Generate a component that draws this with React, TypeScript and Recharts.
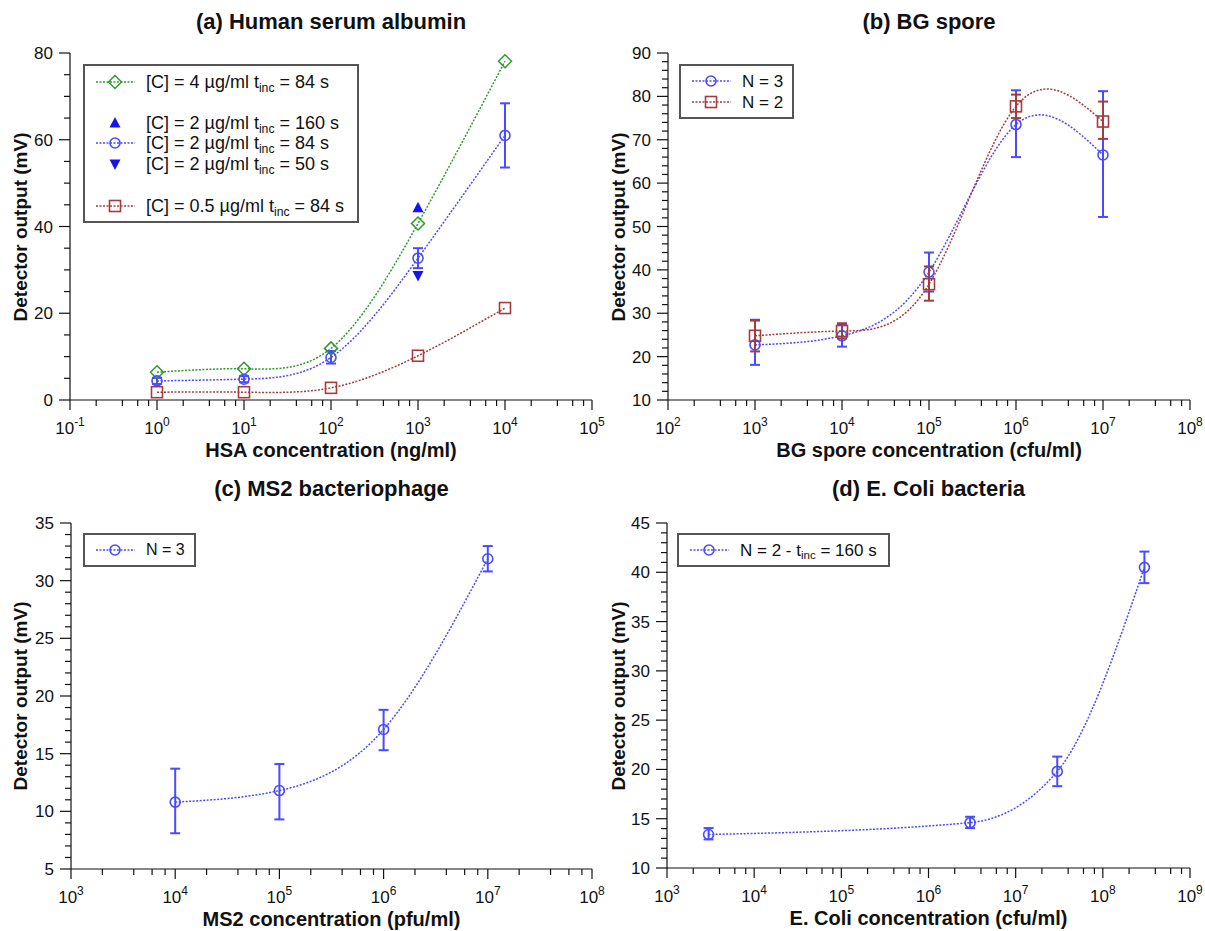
import React from 'react';
import { ComposedChart, Line, XAxis, YAxis, ErrorBar } from 'recharts';

const FONT = '"Liberation Sans", Arial, Helvetica, sans-serif';
const INK = '#111';
const BLUE = '#4a4aff';
const GREEN = '#2f9a2f';
const RED = '#a53c3c';
const TRI = '#1414f0';

// (a) Human serum albumin
const hsaConc = [1, 10, 100, 1000, 10000];
const hsa4ug = [6.4, 7.2, 11.9, 40.7, 78.1];
const hsa2ug = [4.4, 4.8, 9.8, 32.7, 61.0];
const hsa2ugLow = [3.7, 4.1, 8.4, 30.4, 53.6];
const hsa2ugHigh = [5.1, 5.5, 11.3, 35.0, 68.4];
const hsa05ug = [1.8, 1.8, 2.8, 10.2, 21.2];
const hsaTriConc = [1000];
const hsa2ug160s = [44.3];
const hsa2ug50s = [28.7];
const hsaXMajor = [0.1, 1, 10, 100, 1000, 10000, 100000];
const hsaYMajor = [0, 20, 40, 60, 80];

// (b) BG spore
const bgConc = [1e3, 1e4, 1e5, 1e6, 1e7];
const bgN3 = [22.7, 24.8, 39.5, 73.5, 66.5];
const bgN3Low = [18.1, 22.3, 35.0, 66.0, 52.2];
const bgN3High = [28.5, 27.3, 44.0, 81.4, 81.2];
const bgN2 = [24.8, 25.9, 36.7, 77.7, 74.2];
const bgN2Low = [21.2, 24.2, 32.9, 75.0, 70.2];
const bgN2High = [28.3, 27.7, 40.8, 80.4, 78.8];
const bgXMajor = [1e2, 1e3, 1e4, 1e5, 1e6, 1e7, 1e8];
const bgYMajor = [10, 20, 30, 40, 50, 60, 70, 80, 90];

// (c) MS2 bacteriophage
const ms2Conc = [1e4, 1e5, 1e6, 1e7];
const ms2N3 = [10.8, 11.8, 17.1, 31.9];
const ms2N3Low = [8.1, 9.3, 15.3, 30.8];
const ms2N3High = [13.7, 14.1, 18.8, 33.0];
const ms2XMajor = [1e3, 1e4, 1e5, 1e6, 1e7, 1e8];
const ms2YMajor = [5, 10, 15, 20, 25, 30, 35];

// (d) E. Coli bacteria
const ecConc = [3e3, 3e6, 3e7, 3e8];
const ecN2 = [13.4, 14.6, 19.8, 40.5];
const ecN2Low = [12.9, 14.05, 18.3, 38.9];
const ecN2High = [14.05, 15.2, 21.3, 42.1];
const ecXMajor = [1e3, 1e4, 1e5, 1e6, 1e7, 1e8, 1e9];
const ecYMajor = [10, 15, 20, 25, 30, 35, 40, 45];

const minorMultipliers = [2, 4, 6, 8];

type Shape = 'circle' | 'square' | 'diamond' | 'up' | 'down';
type Row = { x: number; y: number; err?: [number, number] };

function toRows(xs: number[], ys: number[], lo?: number[], hi?: number[]): Row[] {
  return xs.map((x, i) => ({
    x,
    y: ys[i],
    err: lo && hi ? [ys[i] - lo[i], hi[i] - ys[i]] : undefined
  }));
}

function logTicks(majors: number[]) {
  const out: number[] = [];
  majors.forEach((m, i) => {
    out.push(m);
    if (i < majors.length - 1) minorMultipliers.forEach((k) => out.push(m * k));
  });
  return out;
}

function linTicks(majors: number[], step: number) {
  const out: number[] = [];
  const lo = majors[0];
  const hi = majors[majors.length - 1];
  for (let v = lo; v <= hi + 1e-9; v += step) out.push(Math.round(v * 1000) / 1000);
  return out;
}

function Marker({ cx, cy, shape, color }: { cx: number; cy: number; shape: Shape; color: string }) {
  if (shape === 'circle') return <circle cx={cx} cy={cy} r={5} fill="none" stroke={color} strokeWidth={1.6} />;
  if (shape === 'square')
    return <rect x={cx - 5.5} y={cy - 5.5} width={11} height={11} fill="none" stroke={color} strokeWidth={1.6} />;
  if (shape === 'diamond')
    return (
      <polygon
        points={`${cx},${cy - 6.5} ${cx + 6.5},${cy} ${cx},${cy + 6.5} ${cx - 6.5},${cy}`}
        fill="none"
        stroke={color}
        strokeWidth={1.5}
      />
    );
  if (shape === 'up')
    return <polygon points={`${cx},${cy - 6} ${cx + 5.5},${cy + 4.5} ${cx - 5.5},${cy + 4.5}`} fill={color} />;
  return <polygon points={`${cx},${cy + 6} ${cx + 5.5},${cy - 4.5} ${cx - 5.5},${cy - 4.5}`} fill={color} />;
}

function XTick(props: any) {
  const { x, y, payload } = props;
  const lg = Math.log10(payload.value);
  const exp = Math.round(lg);
  const major = Math.abs(lg - exp) < 1e-6;
  return (
    <g>
      <line x1={x} x2={x} y1={y} y2={y + (major ? 10 : 6)} stroke={INK} strokeWidth={1.2} />
      {major && (
        <text x={x} y={y + 34} textAnchor="middle" fontSize={17} fill={INK} fontFamily={FONT}>
          10
          <tspan dy={-8} fontSize={12}>
            {exp}
          </tspan>
        </text>
      )}
    </g>
  );
}

function YTick(props: any) {
  const { x, y, payload, majors } = props;
  const major = majors.includes(payload.value);
  return (
    <g>
      <line x1={x} x2={x - (major ? 11 : 6)} y1={y} y2={y} stroke={INK} strokeWidth={1.2} />
      {major && (
        <text x={x - 17} y={y + 6} textAnchor="end" fontSize={17} fill={INK} fontFamily={FONT}>
          {payload.value}
        </text>
      )}
    </g>
  );
}

type Series = {
  name: string;
  rows: Row[];
  color: string;
  shape: Shape;
  curve?: 'natural' | 'monotone';
  errColor?: string;
};

type LegendEntry = { y: number; color: string; shape: Shape; line: boolean; label: React.ReactNode };

function Inc() {
  return <span style={{ fontSize: '0.68em', position: 'relative', top: '0.3em' }}>inc</span>;
}

function LegendBox({
  left,
  top,
  width,
  height,
  fontSize,
  entries
}: {
  left: number;
  top: number;
  width: number;
  height: number;
  fontSize: number;
  entries: LegendEntry[];
}) {
  return (
    <div
      style={{
        position: 'absolute',
        left,
        top,
        width,
        height,
        boxSizing: 'border-box',
        border: '2px solid #555',
        background: '#fff',
        fontFamily: FONT,
        fontSize,
        color: INK
      }}
    >
      <svg width={width} height={height} style={{ position: 'absolute', left: -2, top: -2 }}>
        {entries.map((e, i) => (
          <g key={i}>
            {e.line && (
              <line x1={13} x2={52} y1={e.y} y2={e.y} stroke={e.color} strokeWidth={1.5} strokeDasharray="2 1.5" />
            )}
            <Marker cx={32} cy={e.y} shape={e.shape} color={e.color} />
          </g>
        ))}
      </svg>
      {entries.map((e, i) => (
        <div
          key={i}
          style={{ position: 'absolute', left: 61, top: e.y - 2, transform: 'translateY(-50%)', whiteSpace: 'nowrap', lineHeight: 1 }}
        >
          {e.label}
        </div>
      ))}
    </div>
  );
}

type PanelProps = {
  left: number;
  top: number;
  width: number;
  height: number;
  plot: { top: number; right: number; bottom: number; left: number };
  title: string;
  xLabel: string;
  xMajors: number[];
  yMajors: number[];
  yStep: number;
  series: Series[];
  legend: React.ReactNode;
  titleY: number;
};

function Panel(p: PanelProps) {
  const plotW = p.width - p.plot.left - p.plot.right;
  const plotH = p.height - p.plot.top - p.plot.bottom;
  const cx = p.plot.left + plotW / 2;
  const axisY = p.plot.top + plotH;
  const xTicks = logTicks(p.xMajors);
  const yTicks = linTicks(p.yMajors, p.yStep);
  const text: React.CSSProperties = { position: 'absolute', fontFamily: FONT, color: INK, whiteSpace: 'nowrap', lineHeight: 1 };
  return (
    <div style={{ position: 'absolute', left: p.left, top: p.top, width: p.width, height: p.height }}>
      <ComposedChart width={p.width} height={p.height} margin={{ top: p.plot.top, right: p.plot.right, bottom: 0, left: 0 }}>
        <XAxis
          type="number"
          dataKey="x"
          scale="log"
          domain={[p.xMajors[0], p.xMajors[p.xMajors.length - 1]]}
          ticks={xTicks}
          interval={0}
          allowDataOverflow
          height={p.plot.bottom}
          tickSize={0}
          tickMargin={0}
          tickLine={false}
          axisLine={{ stroke: INK, strokeWidth: 1.2 }}
          tick={(t: any) => <XTick {...t} />}
        />
        <YAxis
          type="number"
          domain={[p.yMajors[0], p.yMajors[p.yMajors.length - 1]]}
          ticks={yTicks}
          interval={0}
          allowDataOverflow
          width={p.plot.left}
          tickSize={0}
          tickMargin={0}
          tickLine={false}
          axisLine={{ stroke: INK, strokeWidth: 1.2 }}
          tick={(t: any) => <YTick {...t} majors={p.yMajors} />}
        />
        {p.series.map((s) => (
          <Line
            key={s.name}
            name={s.name}
            data={s.rows}
            dataKey="y"
            type={s.curve ?? 'natural'}
            stroke={s.curve ? s.color : 'none'}
            strokeWidth={1.5}
            strokeDasharray="2 1.5"
            isAnimationActive={false}
            dot={(d: any) => <Marker key={`${s.name}-${d.index}`} cx={d.cx} cy={d.cy} shape={s.shape} color={s.color} />}
            activeDot={false}
          >
            {s.errColor && (
              <ErrorBar dataKey="err" direction="y" width={5} stroke={s.errColor} strokeWidth={2} isAnimationActive={false} />
            )}
          </Line>
        ))}
      </ComposedChart>
      <div style={{ ...text, left: cx, top: p.titleY, transform: 'translate(-50%, -50%)', fontSize: 22, fontWeight: 700 }}>
        {p.title}
      </div>
      <div style={{ ...text, left: cx, top: axisY + 50, transform: 'translate(-50%, -50%)', fontSize: 20, fontWeight: 700 }}>
        {p.xLabel}
      </div>
      <div
        style={{
          ...text,
          left: 20,
          top: p.plot.top + plotH / 2,
          transform: 'translate(-50%, -50%) rotate(-90deg)',
          fontSize: 19,
          fontWeight: 700
        }}
      >
        Detector output (mV)
      </div>
      {p.legend}
    </div>
  );
}

export default function App() {
  return (
    <div style={{ position: 'absolute', left: 0, top: 0, width: 1205, height: 931, background: '#fff', overflow: 'hidden' }}>
      <Panel
        left={0}
        top={0}
        width={615}
        height={470}
        plot={{ top: 53, right: 23, bottom: 70, left: 70 }}
        title="(a) Human serum albumin"
        titleY={22}
        xLabel="HSA concentration (ng/ml)"
        xMajors={hsaXMajor}
        yMajors={hsaYMajor}
        yStep={5}
        series={[
          { name: 'c4', rows: toRows(hsaConc, hsa4ug), color: GREEN, shape: 'diamond', curve: 'natural' },
          { name: 'c05', rows: toRows(hsaConc, hsa05ug), color: RED, shape: 'square', curve: 'natural' },
          {
            name: 'c2',
            rows: toRows(hsaConc, hsa2ug, hsa2ugLow, hsa2ugHigh),
            color: BLUE,
            shape: 'circle',
            curve: 'natural',
            errColor: BLUE
          },
          { name: 'c2t160', rows: toRows(hsaTriConc, hsa2ug160s), color: TRI, shape: 'up' },
          { name: 'c2t50', rows: toRows(hsaTriConc, hsa2ug50s), color: TRI, shape: 'down' }
        ]}
        legend={
          <LegendBox
            left={83}
            top={64}
            width={276}
            height={159}
            fontSize={18}
            entries={[
              { y: 18, color: GREEN, shape: 'diamond', line: true, label: <>[C] = 4 µg/ml t<Inc /> = 84 s</> },
              { y: 59, color: TRI, shape: 'up', line: false, label: <>[C] = 2 µg/ml t<Inc /> = 160 s</> },
              { y: 79, color: BLUE, shape: 'circle', line: true, label: <>[C] = 2 µg/ml t<Inc /> = 84 s</> },
              { y: 100, color: TRI, shape: 'down', line: false, label: <>[C] = 2 µg/ml t<Inc /> = 50 s</> },
              { y: 142, color: RED, shape: 'square', line: true, label: <>[C] = 0.5 µg/ml t<Inc /> = 84 s</> }
            ]}
          />
        }
      />
      <Panel
        left={598}
        top={0}
        width={607}
        height={470}
        plot={{ top: 53, right: 15, bottom: 70, left: 70 }}
        title="(b) BG spore"
        titleY={22}
        xLabel="BG spore concentration (cfu/ml)"
        xMajors={bgXMajor}
        yMajors={bgYMajor}
        yStep={2}
        series={[
          { name: 'n3', rows: toRows(bgConc, bgN3, bgN3Low, bgN3High), color: BLUE, shape: 'circle', curve: 'natural', errColor: BLUE },
          { name: 'n2', rows: toRows(bgConc, bgN2, bgN2Low, bgN2High), color: RED, shape: 'square', curve: 'natural', errColor: RED }
        ]}
        legend={
          <LegendBox
            left={81}
            top={64}
            width={115}
            height={55}
            fontSize={17}
            entries={[
              { y: 17, color: BLUE, shape: 'circle', line: true, label: 'N = 3' },
              { y: 38, color: RED, shape: 'square', line: true, label: 'N = 2' }
            ]}
          />
        }
      />
      <Panel
        left={0}
        top={470}
        width={615}
        height={461}
        plot={{ top: 53, right: 23, bottom: 62, left: 71 }}
        title="(c) MS2 bacteriophage"
        titleY={19}
        xLabel="MS2 concentration (pfu/ml)"
        xMajors={ms2XMajor}
        yMajors={ms2YMajor}
        yStep={1}
        series={[
          { name: 'n3', rows: toRows(ms2Conc, ms2N3, ms2N3Low, ms2N3High), color: BLUE, shape: 'circle', curve: 'natural', errColor: BLUE }
        ]}
        legend={
          <LegendBox
            left={83}
            top={63}
            width={113}
            height={34}
            fontSize={16}
            entries={[{ y: 17, color: BLUE, shape: 'circle', line: true, label: 'N = 3' }]}
          />
        }
      />
      <Panel
        left={598}
        top={470}
        width={607}
        height={461}
        plot={{ top: 53, right: 15, bottom: 63, left: 69 }}
        title="(d) E. Coli bacteria"
        titleY={19}
        xLabel="E. Coli concentration (cfu/ml)"
        xMajors={ecXMajor}
        yMajors={ecYMajor}
        yStep={1}
        series={[
          { name: 'n2', rows: toRows(ecConc, ecN2, ecN2Low, ecN2High), color: BLUE, shape: 'circle', curve: 'monotone', errColor: BLUE }
        ]}
        legend={
          <LegendBox
            left={79}
            top={63}
            width={213}
            height={34}
            fontSize={17}
            entries={[{ y: 17, color: BLUE, shape: 'circle', line: true, label: <>N = 2 - t<Inc /> = 160 s</> }]}
          />
        }
      />
    </div>
  );
}
